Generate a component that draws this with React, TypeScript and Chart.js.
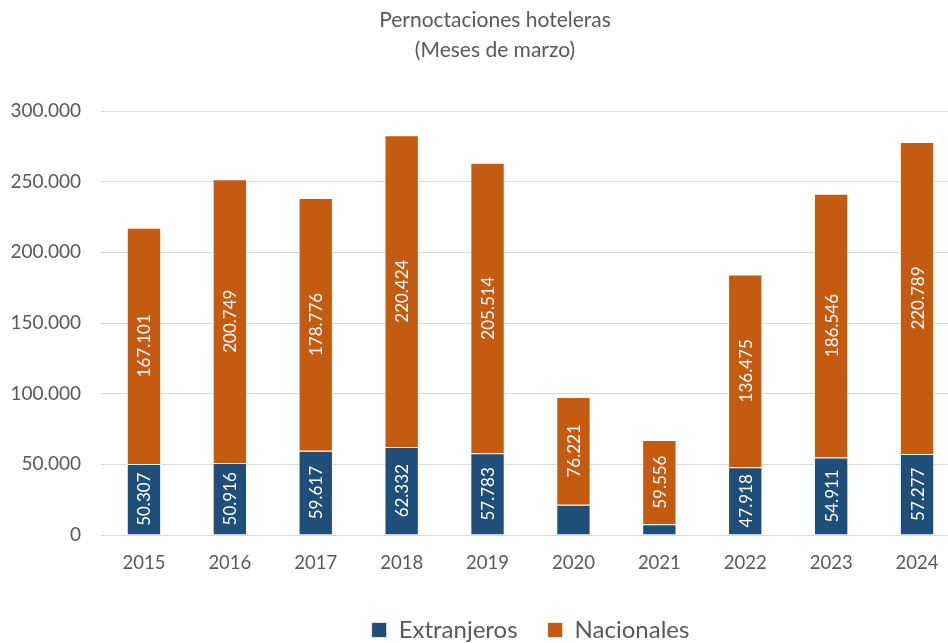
import React, { useEffect, useRef } from "react";
import { Chart, registerables } from "chart.js";

Chart.register(...registerables);

const years = ["2015", "2016", "2017", "2018", "2019", "2020", "2021", "2022", "2023", "2024"];
const extranjeros = [50307, 50916, 59617, 62332, 57783, 21400, 7600, 47918, 54911, 57277];
const nacionales = [167101, 200749, 178776, 220424, 205514, 76221, 59556, 136475, 186546, 220789];
const titleLines = ["Pernoctaciones hoteleras", "(Meses de marzo)"];
const seriesNames = ["Extranjeros", "Nacionales"];

const BLUE = "#1F4E79";
const ORANGE = "#C55A11";
const TEXT = "#595959";
const FONT = "Lato, 'Noto Sans', sans-serif";

const fmt = (n: number) => String(Math.round(n)).replace(/\B(?=(\d{3})+(?!\d))/g, ".");

const barLabels = {
  id: "barLabels",
  afterDatasetsDraw(chart: any) {
    const ctx = chart.ctx;
    ctx.save();
    ctx.font = `17px ${FONT}`;
    ctx.fillStyle = "#ffffff";
    ctx.textAlign = "center";
    ctx.textBaseline = "middle";
    chart.data.datasets.forEach((ds: any, di: number) => {
      const meta = chart.getDatasetMeta(di);
      meta.data.forEach((el: any, i: number) => {
        const v = ds.data[i];
        if (v == null) return;
        const { x, y, base } = el.getProps(["x", "y", "base"], true);
        const txt = fmt(v);
        const w = ctx.measureText(txt).width;
        const h = Math.abs(base - y);
        if (h < w + 6) return;
        ctx.save();
        ctx.translate(x, (y + base) / 2);
        ctx.rotate(-Math.PI / 2);
        ctx.fillText(txt, 0, 1);
        ctx.restore();
      });
    });
    ctx.restore();
  },
};

export default function App() {
  const ref = useRef<HTMLCanvasElement>(null);
  useEffect(() => {
    if (!ref.current) return;
    const chart = new Chart(ref.current, {
      type: "bar",
      data: {
        labels: years,
        datasets: [
          {
            label: seriesNames[0],
            data: extranjeros,
            backgroundColor: BLUE,
            borderColor: "rgba(255,255,255,0.7)",
            borderWidth: 1,
          },
          {
            label: seriesNames[1],
            data: nacionales,
            backgroundColor: ORANGE,
            borderColor: "rgba(255,255,255,0.7)",
            borderWidth: 1,
          },
        ],
      },
      options: {
        animation: false,
        responsive: false,
        layout: { padding: 0 },
        datasets: { bar: { barPercentage: 0.4, categoryPercentage: 1 } } as any,
        scales: {
          x: {
            stacked: true,
            grid: { display: false, drawTicks: false },
            border: { display: false },
            ticks: { color: TEXT, font: { family: FONT, size: 18.5 }, padding: 17 },
            afterFit: (s: any) => {
              s.height = 53;
            },
          },
          y: {
            stacked: true,
            min: 0,
            max: 300000,
            grid: { color: "#D9D9D9", lineWidth: 1, drawTicks: false },
            border: { display: false },
            ticks: {
              stepSize: 50000,
              color: TEXT,
              font: { family: FONT, size: 19 },
              padding: 20,
              callback: (v: any) => fmt(Number(v)),
            },
            afterFit: (s: any) => {
              s.width = 101;
            },
          },
          yRight: {
            position: "right",
            display: true,
            min: 0,
            max: 300000,
            grid: { display: false, drawTicks: false },
            border: { display: false },
            ticks: { display: false },
            afterFit: (s: any) => {
              s.width = 30;
            },
          },
        },
        plugins: {
          title: {
            display: true,
            text: titleLines,
            color: TEXT,
            font: { family: FONT, size: 21, weight: "normal", lineHeight: "30px" } as any,
            padding: { top: 5, bottom: 46 },
          },
          legend: {
            position: "bottom",
            fullSize: false,
            maxHeight: 55,
            labels: {
              color: TEXT,
              font: { family: FONT, size: 24 },
              boxWidth: 15,
              boxHeight: 15,
              padding: 30,
            },
          } as any,
          tooltip: { enabled: false },
        },
      },
      plugins: [barLabels],
    });
    return () => chart.destroy();
  }, []);
  return (
    <div
      style={{
        position: "fixed",
        left: 0,
        top: 0,
        width: 948,
        height: 643,
        overflow: "hidden",
        background: "#fff",
      }}
    >
      <canvas ref={ref} width={990} height={643} style={{ width: 990, height: 643, display: "block" }} />
    </div>
  );
}
